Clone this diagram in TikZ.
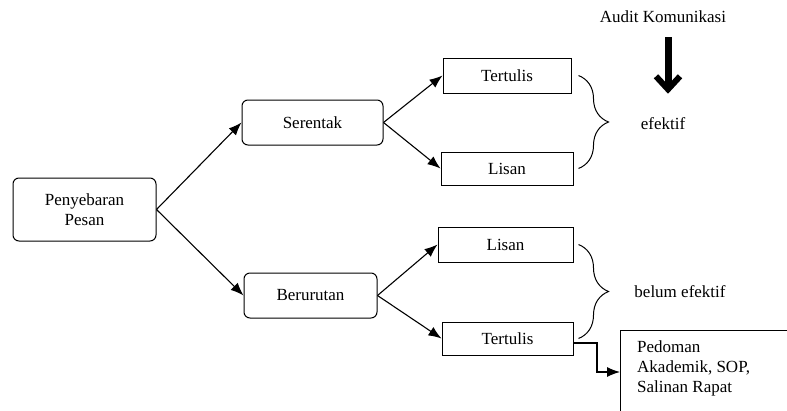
\documentclass[tikz,border=0pt]{standalone}
\usepackage{fontspec}
\setmainfont{Liberation Serif}
\newfontfamily\tnr{Liberation Serif}
\usetikzlibrary{arrows.meta,decorations.pathreplacing,calc}
\begin{document}
\begin{tikzpicture}[x=1pt,y=-1pt,
  every node/.style={font=\tnr\fontsize{17}{20}\selectfont, inner sep=0pt},
  rbox/.style={draw, line width=1pt, rounded corners=6pt},
  sbox/.style={draw, line width=1pt},
  conn/.style={line width=1.1pt, -{Latex[length=13pt,width=10pt]}},
  bracestyle/.style={line width=1pt, decorate, decoration={brace, amplitude=30pt}},
  bigarrow/.style={line width=7pt, -{Straight Barb[length=13pt,width=24pt,line width=6pt]}},
]
\useasboundingbox (0,0) rectangle (787,410);
\begin{scope}
\clip (0,0) rectangle (787,410);
% nodes
\node[rbox, minimum width=143pt, minimum height=63pt, align=center] (peny) at (84.5,209.5) {Penyebaran\\Pesan};
\node[rbox, minimum width=141pt, minimum height=45pt] (ser) at (312.5,122.5) {Serentak};
\node[rbox, minimum width=133pt, minimum height=45pt] (ber) at (310.5,295.5) {Berurutan};
\node[sbox, minimum width=128pt, minimum height=35pt] (tt) at (507,75.5) {Tertulis};
\node[sbox, minimum width=132pt, minimum height=33pt] (ls) at (507,168.5) {Lisan};
\node[sbox, minimum width=135pt, minimum height=35pt] (lb) at (505.5,244.5) {Lisan};
\node[sbox, minimum width=131pt, minimum height=33pt] (tb) at (507.5,338.5) {Tertulis};
\node[sbox, anchor=north west, minimum width=200pt, minimum height=110pt] (ped) at (620,330) {};
\node[anchor=north west, align=left] (pedtxt) at (637,340) {Pedoman\\[0.5pt]Akademik, SOP,\\Salinan Rapat};
\node (audit) at (663,17) {Audit Komunikasi};
\node (ef) at (663,124) {efektif};
\node (bef) at (680,292) {belum efektif};
% connectors
\draw[conn] (peny.east) -- (ser.west);
\draw[conn] (peny.east) -- (ber.west);
\draw[conn] (ser.east) -- (tt.west);
\draw[conn] (ser.east) -- (ls.west);
\draw[conn] (ber.east) -- (lb.west);
\draw[conn] (ber.east) -- (tb.west);
\coordinate (bend) at (597,343);
\coordinate (pin) at (620,372);
\draw[conn] ([yshift=-4.5pt]tb.east) -- (bend) |- (pin);
% braces
\draw[bracestyle] ([xshift=7pt]tt.east) -- ([xshift=5pt]ls.east);
\draw[bracestyle] ([xshift=5pt]lb.east) -- ([xshift=5pt]tb.east);
% audit arrow
\draw[bigarrow, shorten <=14pt, shorten >=24pt] (668,17 |- audit.south) -- (668,0 |- ef.north);
\end{scope}
\end{tikzpicture}
\end{document}
